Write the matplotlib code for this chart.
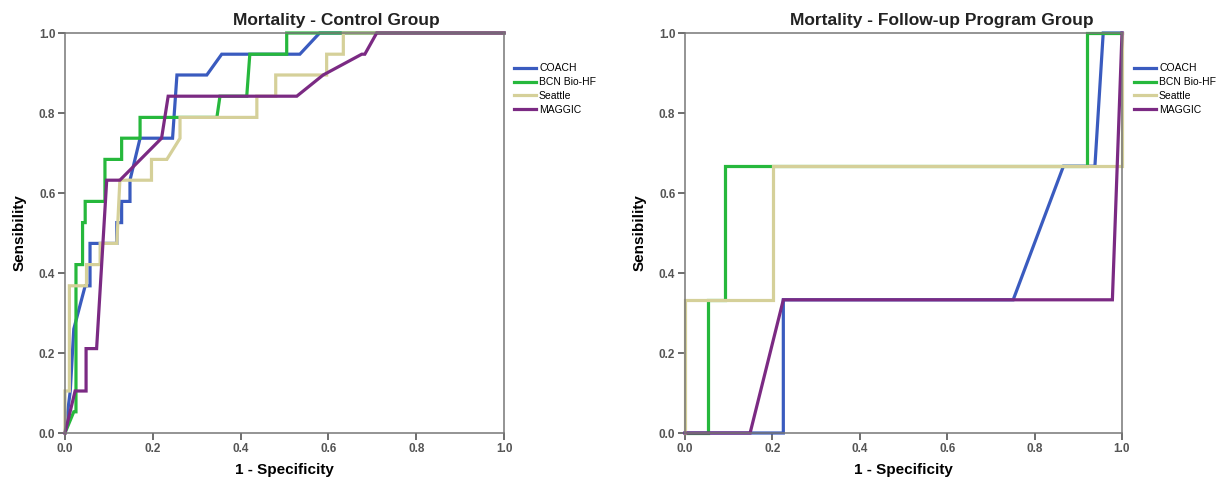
import numpy as np
from matplotlib import pyplot as plt

plt.rcParams['font.family'] = ['Liberation Sans', 'DejaVu Sans']

model_names = ['COACH', 'BCN Bio-HF', 'Seattle', 'MAGGIC']
model_colors = ['#3a5bbf', '#26b83c', '#d5d099', '#7b2a83']

# ROC curves, control group (1 - specificity, sensibility)
ctrl_coach_x = [0, 0.012, 0.02, 0.046, 0.057, 0.057, 0.118, 0.118, 0.129, 0.129, 0.148, 0.148,
                0.171, 0.245, 0.255, 0.262, 0.323, 0.357, 0.535, 0.58, 1.0]
ctrl_coach_y = [0, 0.105, 0.26, 0.368, 0.368, 0.474, 0.474, 0.526, 0.526, 0.579, 0.579, 0.632,
                0.737, 0.737, 0.895, 0.895, 0.895, 0.947, 0.947, 1.0, 1.0]
ctrl_bcn_x = [0, 0.02, 0.025, 0.025, 0.04, 0.04, 0.046, 0.046, 0.091, 0.091, 0.129, 0.129,
              0.171, 0.171, 0.346, 0.353, 0.414, 0.421, 0.505, 0.505, 1.0]
ctrl_bcn_y = [0, 0.053, 0.053, 0.421, 0.421, 0.526, 0.526, 0.579, 0.579, 0.684, 0.684, 0.737,
              0.737, 0.789, 0.789, 0.842, 0.842, 0.947, 0.947, 1.0, 1.0]
ctrl_seattle_x = [0, 0, 0.01, 0.01, 0.049, 0.049, 0.08, 0.08, 0.118, 0.125, 0.197, 0.197,
                  0.232, 0.262, 0.262, 0.437, 0.437, 0.48, 0.48, 0.596, 0.596, 0.634, 0.634, 1.0]
ctrl_seattle_y = [0, 0.105, 0.105, 0.368, 0.368, 0.421, 0.421, 0.474, 0.474, 0.632, 0.632, 0.684,
                  0.684, 0.737, 0.789, 0.789, 0.842, 0.842, 0.895, 0.895, 0.947, 0.947, 1.0, 1.0]
ctrl_maggic_x = [0, 0.023, 0.048, 0.048, 0.072, 0.095, 0.125, 0.22, 0.235, 0.528, 0.588,
                 0.676, 0.683, 0.71, 1.0]
ctrl_maggic_y = [0, 0.105, 0.105, 0.211, 0.211, 0.632, 0.632, 0.737, 0.842, 0.842, 0.895,
                 0.947, 0.947, 1.0, 1.0]

# ROC curves, follow-up program group
fu_coach_x = [0, 0.225, 0.225, 0.751, 0.866, 0.938, 0.957, 1.0]
fu_coach_y = [0, 0, 0.333, 0.333, 0.667, 0.667, 1.0, 1.0]
fu_bcn_x = [0, 0.053, 0.053, 0.0915, 0.0915, 0.919, 0.919, 1.0]
fu_bcn_y = [0, 0, 0.333, 0.333, 0.667, 0.667, 1.0, 1.0]
fu_seattle_x = [0, 0, 0.202, 0.202, 1.0, 1.0]
fu_seattle_y = [0, 0.333, 0.333, 0.667, 0.667, 1.0]
fu_maggic_x = [0, 0.149, 0.225, 0.978, 1.0, 1.0]
fu_maggic_y = [0, 0, 0.333, 0.333, 1.0, 1.0]

ticks = [0.0, 0.2, 0.4, 0.6, 0.8, 1.0]

fig = plt.figure(figsize=(12.2, 4.79), dpi=100)


def roc_panel(rect, curves, title, title_x, legend_x):
    ax = fig.add_axes(rect)
    for i, (xs, ys) in enumerate(curves):
        ax.plot(xs, ys, color=model_colors[i], lw=2.3, label=model_names[i],
                clip_on=False, solid_joinstyle='miter')
    ax.set_xlim(0, 1)
    ax.set_ylim(0, 1)
    ax.set_xticks(ticks)
    ax.set_yticks(ticks)
    ax.set_xticklabels(['%.1f' % t for t in ticks])
    ax.set_yticklabels(['%.1f' % t for t in ticks])
    ax.tick_params(direction='out', length=5, width=1.2, color='#555555',
                   labelsize=8.5, labelcolor='#555555', pad=2)
    for lab in ax.get_xticklabels() + ax.get_yticklabels():
        lab.set_fontweight('bold')
    for sp in ax.spines.values():
        sp.set_color('#777777')
        sp.set_linewidth(1.1)
    ax.set_xlabel('1 - Specificity', fontsize=11, fontweight='bold', labelpad=6)
    ax.set_ylabel('Sensibility', fontsize=11, fontweight='bold', labelpad=9)
    fig.text(title_x, 0.958, title, fontsize=12.5, fontweight='bold',
             ha='center', va='center', color='#222222')
    ax.legend(loc='upper left', bbox_to_anchor=(legend_x, 0.868),
              bbox_transform=fig.transFigure, frameon=False, fontsize=7.5,
              handlelength=2.1, handletextpad=0.3, labelspacing=0.38,
              borderaxespad=0, borderpad=0)
    return ax


roc_panel([65 / 1220, 46 / 479, 439 / 1220, 400 / 479],
          [(ctrl_coach_x, ctrl_coach_y), (ctrl_bcn_x, ctrl_bcn_y),
           (ctrl_seattle_x, ctrl_seattle_y), (ctrl_maggic_x, ctrl_maggic_y)],
          'Mortality - Control Group', 336 / 1220, 514 / 1220)

roc_panel([685 / 1220, 46 / 479, 437 / 1220, 400 / 479],
          [(fu_coach_x, fu_coach_y), (fu_bcn_x, fu_bcn_y),
           (fu_seattle_x, fu_seattle_y), (fu_maggic_x, fu_maggic_y)],
          'Mortality - Follow-up Program Group', 942 / 1220, 1134 / 1220)

plt.savefig('out.png', dpi=100)
